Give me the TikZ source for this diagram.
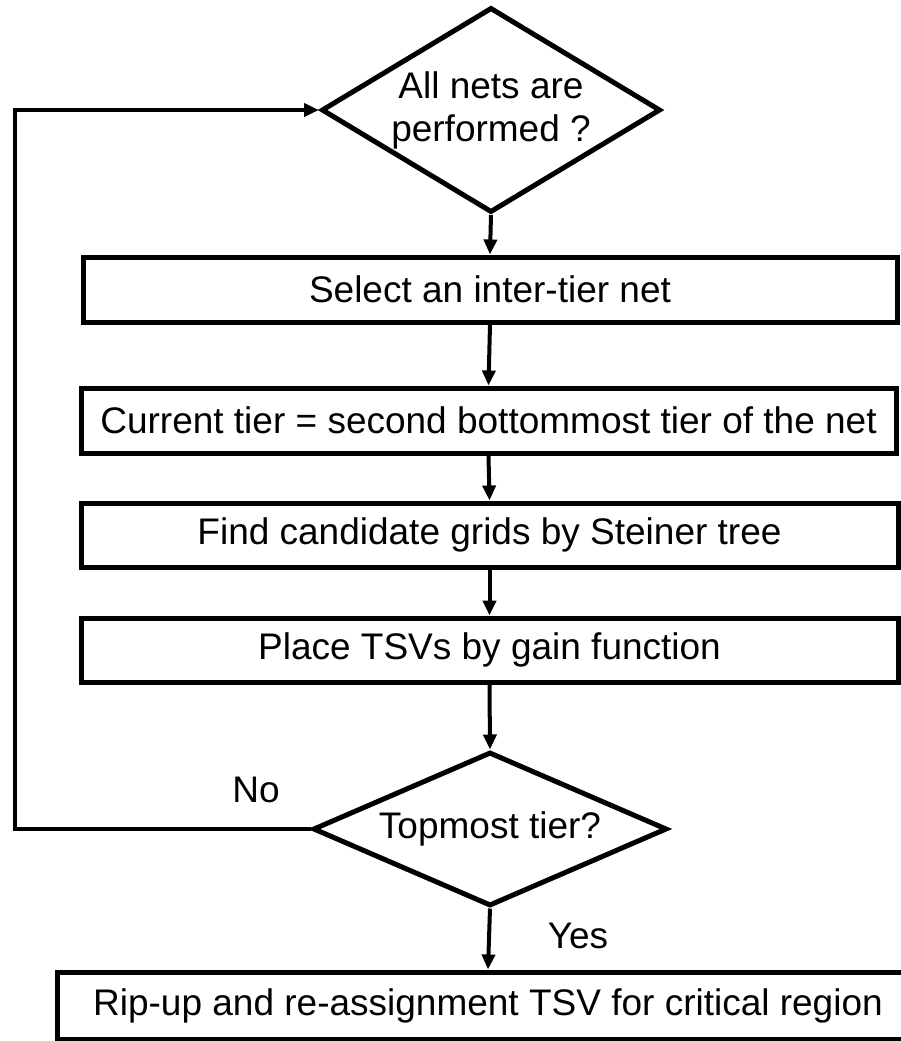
\documentclass[tikz,border=0pt]{standalone}
\usepackage{fontspec}
\setmainfont{Liberation Sans}
\usetikzlibrary{shapes.geometric,arrows.meta}

\begin{document}
\begin{tikzpicture}[x=0.5pt,y=-0.5pt,
  font=\fontsize{18.5pt}{21.5pt}\selectfont,
  stepbox/.style={draw,line width=2.5pt,inner sep=0pt,minimum height=32.5pt},
  decision/.style={draw,diamond,line width=2.5pt,inner sep=0pt},
  flow/.style={line width=2pt,-{Triangle[length=7.5pt,width=6.5pt]}}]
\useasboundingbox (0,0) rectangle (901,1041);

\node[decision,minimum width=169.5pt,minimum height=102.5pt,
  label={[align=center]center:All nets are\\performed ?}] (alldone) at (491,110) {};

\node[stepbox,minimum width=407pt] (select) at (490,289.5) {Select an inter-tier net};
\node[stepbox,minimum width=407.5pt] (current) at (488.5,420.5) {Current tier = second bottommost tier of the net};
\node[stepbox,minimum width=408.5pt,minimum height=32pt] (candidate) at (489.5,535) {Find candidate grids by Steiner tree};
\node[stepbox,minimum width=408.5pt,minimum height=32pt] (place) at (489.5,650) {Place TSVs by gain function};

\node[decision,minimum width=177pt,minimum height=77pt,
  label={center:Topmost tier?}] (topmost) at (490,829) {};

\node[stepbox,minimum width=431pt,minimum height=33.5pt] (ripup) at (488,1005.5) {Rip-up and re-assignment TSV for critical region};

\node (no) at (256,790) {No};
\node (yes) at (578,936) {Yes};

\coordinate (back) at (15,829);

\draw[flow] (alldone.south) -- (select.north);
\draw[flow] (select.south) -- (current.north);
\draw[flow] (current.south) -- (candidate.north);
\draw[flow] (candidate.south) -- (place.north);
\draw[flow] (place.south) -- (topmost.north);
\draw[flow] (topmost.south) -- (ripup.north);
\draw[flow] (topmost.west) -- (back) |- (alldone.west);
\end{tikzpicture}
\end{document}
